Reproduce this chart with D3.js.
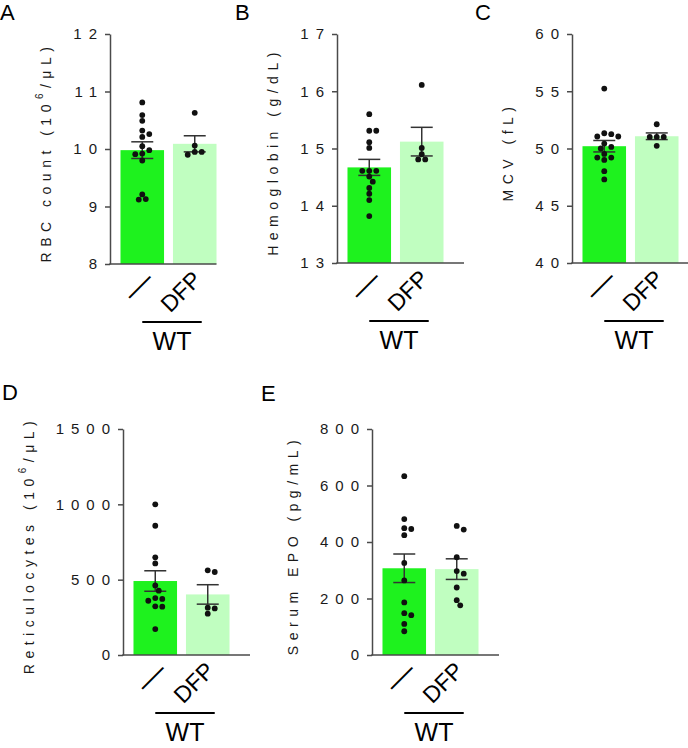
<!DOCTYPE html>
<html><head><meta charset="utf-8">
<script src="https://cdn.jsdelivr.net/npm/d3@7"></script>
<style>body{margin:0;background:#fff}svg{display:block}</style>
</head><body>
<svg id="chart" width="688" height="748"></svg>
<script>
// ---------- data ----------
const categories = ["—", "DFP"];
const groupLabel = "WT";
const panelLetters = ["A", "B", "C", "D", "E"];
const yTitles = ["RBC count (10^6/μL)", "Hemoglobin  (g/dL)", "MCV  (fL)", "Reticulocytes (10^6/μL)", "Serum  EPO  (pg/mL)"];
const yDomains = [[8, 12], [13, 17], [40, 60], [0, 1500], [0, 800]];
const yTickValues = [[8, 9, 10, 11, 12], [13, 14, 15, 16, 17], [40, 45, 50, 55, 60], [0, 500, 1000, 1500], [0, 200, 400, 600, 800]];

const rbcWT  = [10.81, 10.59, 10.49, 10.32, 10.26, 10.21, 10.05, 9.98, 9.91, 9.92, 9.80, 9.21, 9.12, 9.13];
const rbcDFP = [10.63, 10.06, 9.95, 9.95, 9.90];
const rbcMean = [9.98, 10.09];
const rbcSEM  = [0.145, 0.14];

const hbWT  = [15.60, 15.31, 15.31, 15.11, 15.01, 14.61, 14.61, 14.61, 14.51, 14.42, 14.31, 14.21, 14.10, 13.82];
const hbDFP = [16.11, 15.01, 14.90, 14.81, 14.81];
const hbMean = [14.67, 15.12];
const hbSEM  = [0.14, 0.25];

const mcvWT  = [55.23, 51.33, 51.25, 51.05, 51.05, 50.43, 50.14, 50.0, 49.53, 49.21, 49.21, 49.0, 48.02, 47.30];
const mcvDFP = [52.12, 51.01, 51.01, 51.01, 50.23];
const mcvMean = [50.2, 51.07];
const mcvSEM  = [0.5, 0.29];

const retWT  = [1000, 858, 648, 608, 462, 427, 378, 372, 360, 323, 321, 172];
const retDFP = [562, 551, 314, 309, 274];
const retMean = [491, 402];
const retSEM  = [68, 64.5];

const epoWT  = [633, 481, 449, 446, 424, 326, 264, 186, 148, 141, 110, 84];
const epoDFP = [457, 444, 346, 297, 288, 239, 194, 176];
const epoMean = [307, 304];
const epoSEM  = [50.5, 36.5];

const panelPoints = [[rbcWT, rbcDFP], [hbWT, hbDFP], [mcvWT, mcvDFP], [retWT, retDFP], [epoWT, epoDFP]];
const panelMeans = [rbcMean, hbMean, mcvMean, retMean, epoMean];
const panelSEMs = [rbcSEM, hbSEM, mcvSEM, retSEM, epoSEM];

// ---------- layout ----------
const layout = [
  {left: 110, top: 34, bottom: 264, lx: 0,   ly: 20,  axisToBar: true},
  {left: 337, top: 34, bottom: 263, lx: 235, ly: 20,  axisToBar: false},
  {left: 572, top: 34, bottom: 263, lx: 475, ly: 20,  axisToBar: false},
  {left: 123, top: 429, bottom: 655, lx: 2,  ly: 400, axisToBar: false},
  {left: 372, top: 429, bottom: 655, lx: 261, ly: 401, axisToBar: false}
];
const barColors = ["#1ef21e", "#c0fec0"];
const axisColor = "#4a4a4a";
const sansFont = "'Liberation Sans', Arial, sans-serif";

const svg = d3.select("#chart");

function swarm(vals, y, r, step) {
  const placed = [];
  const out = new Array(vals.length);
  const order = vals.map((v, i) => i).sort((a, b) => vals[b] - vals[a]);
  const cands = [0];
  for (let j = 1; j < 12; j++) cands.push(j * step, -j * step);
  for (const i of order) {
    const py = y(vals[i]);
    let off = 0;
    for (const c of cands) {
      if (placed.every(p => Math.hypot(p.x - c, p.y - py) >= 2 * r - 0.2)) { off = c; break; }
    }
    placed.push({x: off, y: py});
    out[i] = {x: off, y: py, v: vals[i]};
  }
  return out;
}

layout.forEach((L, pi) => {
  const g = svg.append("g");
  const y = d3.scaleLinear().domain(yDomains[pi]).range([L.bottom, L.top]);
  const x = d3.scaleBand().domain(categories).range([L.left, L.left + 117])
    .paddingInner(0.17).paddingOuter(0.2);
  const cx = c => x(c) + x.bandwidth() / 2;

  // panel letter
  g.append("text").attr("x", L.lx).attr("y", L.ly)
    .attr("font-family", sansFont).attr("font-size", 22).attr("fill", "#000")
    .text(panelLetters[pi]);

  // bars
  g.selectAll("rect.bar").data(categories).join("rect")
    .attr("x", d => x(d)).attr("width", x.bandwidth())
    .attr("y", (d, i) => y(panelMeans[pi][i]))
    .attr("height", (d, i) => L.bottom - y(panelMeans[pi][i]))
    .attr("fill", (d, i) => barColors[i]);

  // error bars
  categories.forEach((c, i) => {
    const m = panelMeans[pi][i], s = panelSEMs[pi][i];
    const eg = g.append("g").attr("stroke", "#333").attr("stroke-width", 1.5);
    eg.append("line").attr("x1", cx(c)).attr("x2", cx(c)).attr("y1", y(m - s)).attr("y2", y(m + s));
    [m - s, m + s].forEach(v => {
      eg.append("line").attr("x1", cx(c) - 11).attr("x2", cx(c) + 11).attr("y1", y(v)).attr("y2", y(v));
    });
  });

  // dots
  categories.forEach((c, i) => {
    const pts = swarm(panelPoints[pi][i], y, 2.9, 3.5);
    g.selectAll(null).data(pts).join("circle")
      .attr("cx", d => cx(c) + d.x).attr("cy", d => y(d.v)).attr("r", 2.9).attr("fill", "#111");
  });

  // y axis
  const ls = 7;
  const ya = g.append("g").attr("transform", `translate(${L.left},0)`)
    .call(d3.axisLeft(y).tickValues(yTickValues[pi]).tickSize(5).tickSizeOuter(0).tickFormat(d3.format("d")));
  ya.select(".domain").attr("stroke", axisColor).attr("stroke-width", 1.5);
  ya.selectAll(".tick line").attr("stroke", axisColor).attr("stroke-width", 1.5);
  ya.selectAll(".tick text").attr("font-family", sansFont).attr("font-size", 15)
    .attr("fill", "#1a1a1a").attr("letter-spacing", ls + "px").attr("x", -13 + ls);

  // x axis baseline
  const xEnd = L.axisToBar ? x(categories[1]) + x.bandwidth() : L.left + 127;
  g.append("line").attr("x1", L.left - 0.75).attr("x2", xEnd).attr("y1", L.bottom).attr("y2", L.bottom)
    .attr("stroke", axisColor).attr("stroke-width", 1.5);

  // y title
  let minX = Infinity;
  ya.selectAll(".tick text").each(function () {
    const b = this.getBBox();
    minX = Math.min(minX, L.left + b.x);
  });
  const tx = minX - 22;
  const ty = (L.top + L.bottom) / 2 + 3;
  const title = g.append("text").attr("transform", `translate(${tx},${ty}) rotate(-90)`)
    .attr("text-anchor", "middle").attr("font-family", sansFont).attr("font-size", 14)
    .attr("fill", "#1a1a1a").attr("letter-spacing", "5.5px");
  const parts = yTitles[pi].split(/\^(\d)/);
  if (parts.length === 1) {
    title.text(parts[0]);
  } else {
    title.append("tspan").text(parts[0]);
    title.append("tspan").attr("font-size", 10).attr("dy", -8).text(parts[1]);
    title.append("tspan").attr("dy", 8).text(parts[2]);
  }

  // category labels
  const c1 = cx(categories[0]), c2 = cx(categories[1]);
  g.append("text").attr("transform", `translate(${c1 - 3},${L.bottom + 23}) rotate(-45)`)
    .attr("text-anchor", "middle").attr("dy", "0.27em")
    .attr("font-family", sansFont).attr("font-size", 30).attr("fill", "#000").text(categories[0]);
  g.append("text").attr("transform", `translate(${c2 + 8},${L.bottom + 17}) rotate(-45)`)
    .attr("text-anchor", "end")
    .attr("font-family", sansFont).attr("font-size", 23).attr("fill", "#000").text(categories[1]);

  // group line + label
  const gx1 = c1, gx2 = c2 + 7, gy = L.bottom + 58;
  g.append("line").attr("x1", gx1).attr("x2", gx2).attr("y1", gy).attr("y2", gy)
    .attr("stroke", "#000").attr("stroke-width", 2);
  g.append("text").attr("x", (gx1 + gx2) / 2).attr("y", gy + 28).attr("text-anchor", "middle")
    .attr("font-family", sansFont).attr("font-size", 25).attr("fill", "#000").text(groupLabel);
});
</script>
</body></html>
